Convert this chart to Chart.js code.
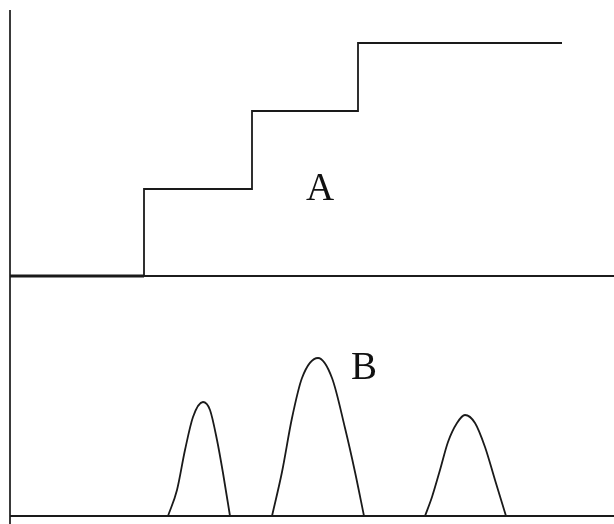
<!DOCTYPE html>
<html>
<head>
<meta charset="utf-8">
<script src="https://cdn.jsdelivr.net/npm/chart.js@4/dist/chart.umd.min.js"></script>
<style>
html,body{margin:0;padding:0;background:#fff;}
#wrap{width:614px;height:524px;position:relative;}
</style>
</head>
<body>
<div id="wrap"><canvas id="c" width="614" height="524"></canvas></div>
<script>
// Series A: staircase (time, level)
const stepTimes  = [0, 134, 134, 242, 242, 348, 348, 552];
const stepLevels = [0, 0, 87, 87, 165, 165, 233, 233];
// Series B: flat baseline plus three peaks (time, height); null separates peaks
const baseTimes   = [0, 604];
const baseHeights = [0, 0];
const peakTimes   = [158, 167, 175, 183, 193, 200, 207, 213, 220, null,
                     262, 272, 282, 292, 308, 322, 335, 345, 354, null,
                     415, 422, 430, 438, 447, 455, 465, 475, 485, 496];
const peakHeights = [0, 26, 66, 99, 114, 106, 76, 43, 0, null,
                     0, 44, 98, 138, 158, 138, 88, 44, 0, null,
                     0, 19, 46, 74, 93, 101, 93, 69, 36, 0];
const labelTexts = ['A', 'B'];

const dataA = stepTimes.map((t, i) => ({x: t, y: stepLevels[i]}));
const dataBase = baseTimes.map((t, i) => ({x: t, y: baseHeights[i]}));
const dataPeaks = peakTimes.map((t, i) => (t === null ? {x: NaN, y: null} : {x: t, y: peakHeights[i]}));

const frame = {
  id: 'frame',
  beforeDatasetsDraw(chart) {
    const {ctx, chartArea, scales} = chart;
    ctx.save();
    ctx.strokeStyle = '#1c1c1c';
    ctx.lineWidth = 1.8;
    const y0 = scales.yA.getPixelForValue(0);
    ctx.beginPath();
    ctx.moveTo(scales.x.getPixelForValue(0), y0);
    ctx.lineTo(chartArea.right, y0);
    ctx.stroke();
    ctx.strokeStyle = '#3a3a3a';
    ctx.lineWidth = 2;
    const x0 = Math.round(scales.x.getPixelForValue(0));
    ctx.beginPath();
    ctx.moveTo(x0, chartArea.top);
    ctx.lineTo(x0, chart.height);
    ctx.stroke();
    ctx.restore();
  },
  afterDatasetsDraw(chart, args, opts) {
    const {ctx, scales} = chart;
    ctx.save();
    ctx.fillStyle = '#111';
    ctx.font = '39px "Liberation Serif", "DejaVu Serif", serif';
    ctx.textAlign = 'center';
    ctx.textBaseline = 'middle';
    opts.items.forEach((it, i) => {
      ctx.fillText(labelTexts[i], scales.x.getPixelForValue(it.x), scales[it.axis].getPixelForValue(it.y));
    });
    ctx.restore();
  }
};

new Chart(document.getElementById('c'), {
  type: 'line',
  data: {
    datasets: [
      {
        data: dataA, yAxisID: 'yA', borderColor: '#1a1a1a', borderWidth: 1.8,
        pointRadius: 0, tension: 0, fill: false,
        segment: {
          borderWidth: c => (c.p0.parsed.y === 0 && c.p1.parsed.y === 0) ? 3.2 : 1.8
        }
      },
      {
        data: dataBase, yAxisID: 'yB', borderColor: '#1a1a1a', borderWidth: 1.8,
        pointRadius: 0, tension: 0, fill: false
      },
      {
        data: dataPeaks, yAxisID: 'yB', borderColor: '#1a1a1a', borderWidth: 1.8,
        pointRadius: 0, cubicInterpolationMode: 'monotone', fill: false, spanGaps: false
      }
    ]
  },
  options: {
    responsive: false,
    animation: false,
    events: [],
    layout: {padding: {left: 10, top: 10, right: 0, bottom: 0}},
    plugins: {
      legend: {display: false},
      tooltip: {enabled: false},
      frame: {items: [{x: 310, y: 86, axis: 'yA'}, {x: 354, y: 147, axis: 'yB'}]}
    },
    scales: {
      x: {type: 'linear', min: 0, max: 604, display: false},
      yA: {type: 'linear', min: -248, max: 266, display: false},
      yB: {type: 'linear', min: -8, max: 506, display: false}
    }
  },
  plugins: [frame]
});
</script>
</body>
</html>
